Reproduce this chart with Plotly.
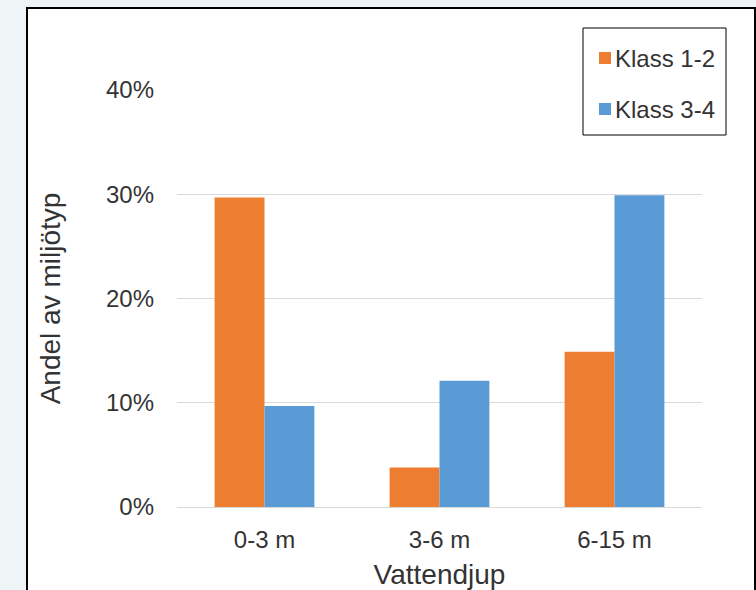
import plotly.graph_objects as go

categories = ["0-3 m", "3-6 m", "6-15 m"]
klass_12 = [0.297, 0.038, 0.149]
klass_34 = [0.097, 0.121, 0.299]
series_names = ["Klass 1-2", "Klass 3-4"]
colors = ["#ED7D31", "#5B9BD5"]

FONT = "Liberation Sans, Arial, sans-serif"
TXT = "#333333"

fig = go.Figure()
for name, vals, col in zip(series_names, [klass_12, klass_34], colors):
    fig.add_trace(go.Bar(x=categories, y=vals, name=name, marker_color=col,
                         marker_line_width=0, showlegend=False))

L, R, T, B = 177, 54, 90, 83
W, H = 756, 590
pw, ph = W - L - R, H - T - B

def px_x(p):
    return (p - L) / pw

def px_y(p):
    return (H - B - p) / ph

# outer chart frame
fig.add_shape(type="rect", xref="paper", yref="paper",
              x0=px_x(27), x1=px_x(755), y0=px_y(620), y1=px_y(8),
              line=dict(color="black", width=2), fillcolor="white", layer="below")

# legend box
fig.add_shape(type="rect", xref="paper", yref="paper",
              x0=px_x(583), x1=px_x(726), y0=px_y(135), y1=px_y(28),
              line=dict(color="black", width=1), fillcolor="white", layer="above")
for i, (name, col) in enumerate(zip(series_names, colors)):
    cy = 58 + i * 51
    fig.add_shape(type="rect", xref="paper", yref="paper",
                  x0=px_x(599), x1=px_x(611), y0=px_y(cy + 6), y1=px_y(cy - 6),
                  line=dict(width=0), fillcolor=col, layer="above")
    fig.add_annotation(xref="paper", yref="paper", x=px_x(613), y=px_y(cy),
                       text=name, showarrow=False, xanchor="left", yanchor="middle",
                       font=dict(size=24, color=TXT))

fig.update_layout(
    width=W, height=H,
    margin=dict(l=L, r=R, t=T, b=B, pad=0, autoexpand=False),
    paper_bgcolor="#eff5f6", plot_bgcolor="white",
    barmode="group", bargap=0.43, bargroupgap=0,
    showlegend=False,
    font=dict(family=FONT, size=24, color=TXT),
    xaxis=dict(title=dict(text="Vattendjup", font=dict(size=28, color=TXT), standoff=16),
               showline=False, ticks="", ticklabelstandoff=16, automargin=False,
               tickfont=dict(size=24, color=TXT)),
    yaxis=dict(title=dict(text="Andel av miljötyp", font=dict(size=28, color=TXT), standoff=37),
               range=[0, 0.4], dtick=0.1, tickformat=".0%", automargin=False,
               showgrid=True, gridcolor="#d9d9d9", gridwidth=1,
               zeroline=True, zerolinecolor="#d9d9d9", zerolinewidth=1,
               showline=False, ticks="", ticklabelstandoff=22,
               tickfont=dict(size=24, color=TXT)),
)

fig.write_html("out.html", config={"displayModeBar": False},
               post_script="document.body.style.margin='0';document.body.style.overflow='hidden';")
